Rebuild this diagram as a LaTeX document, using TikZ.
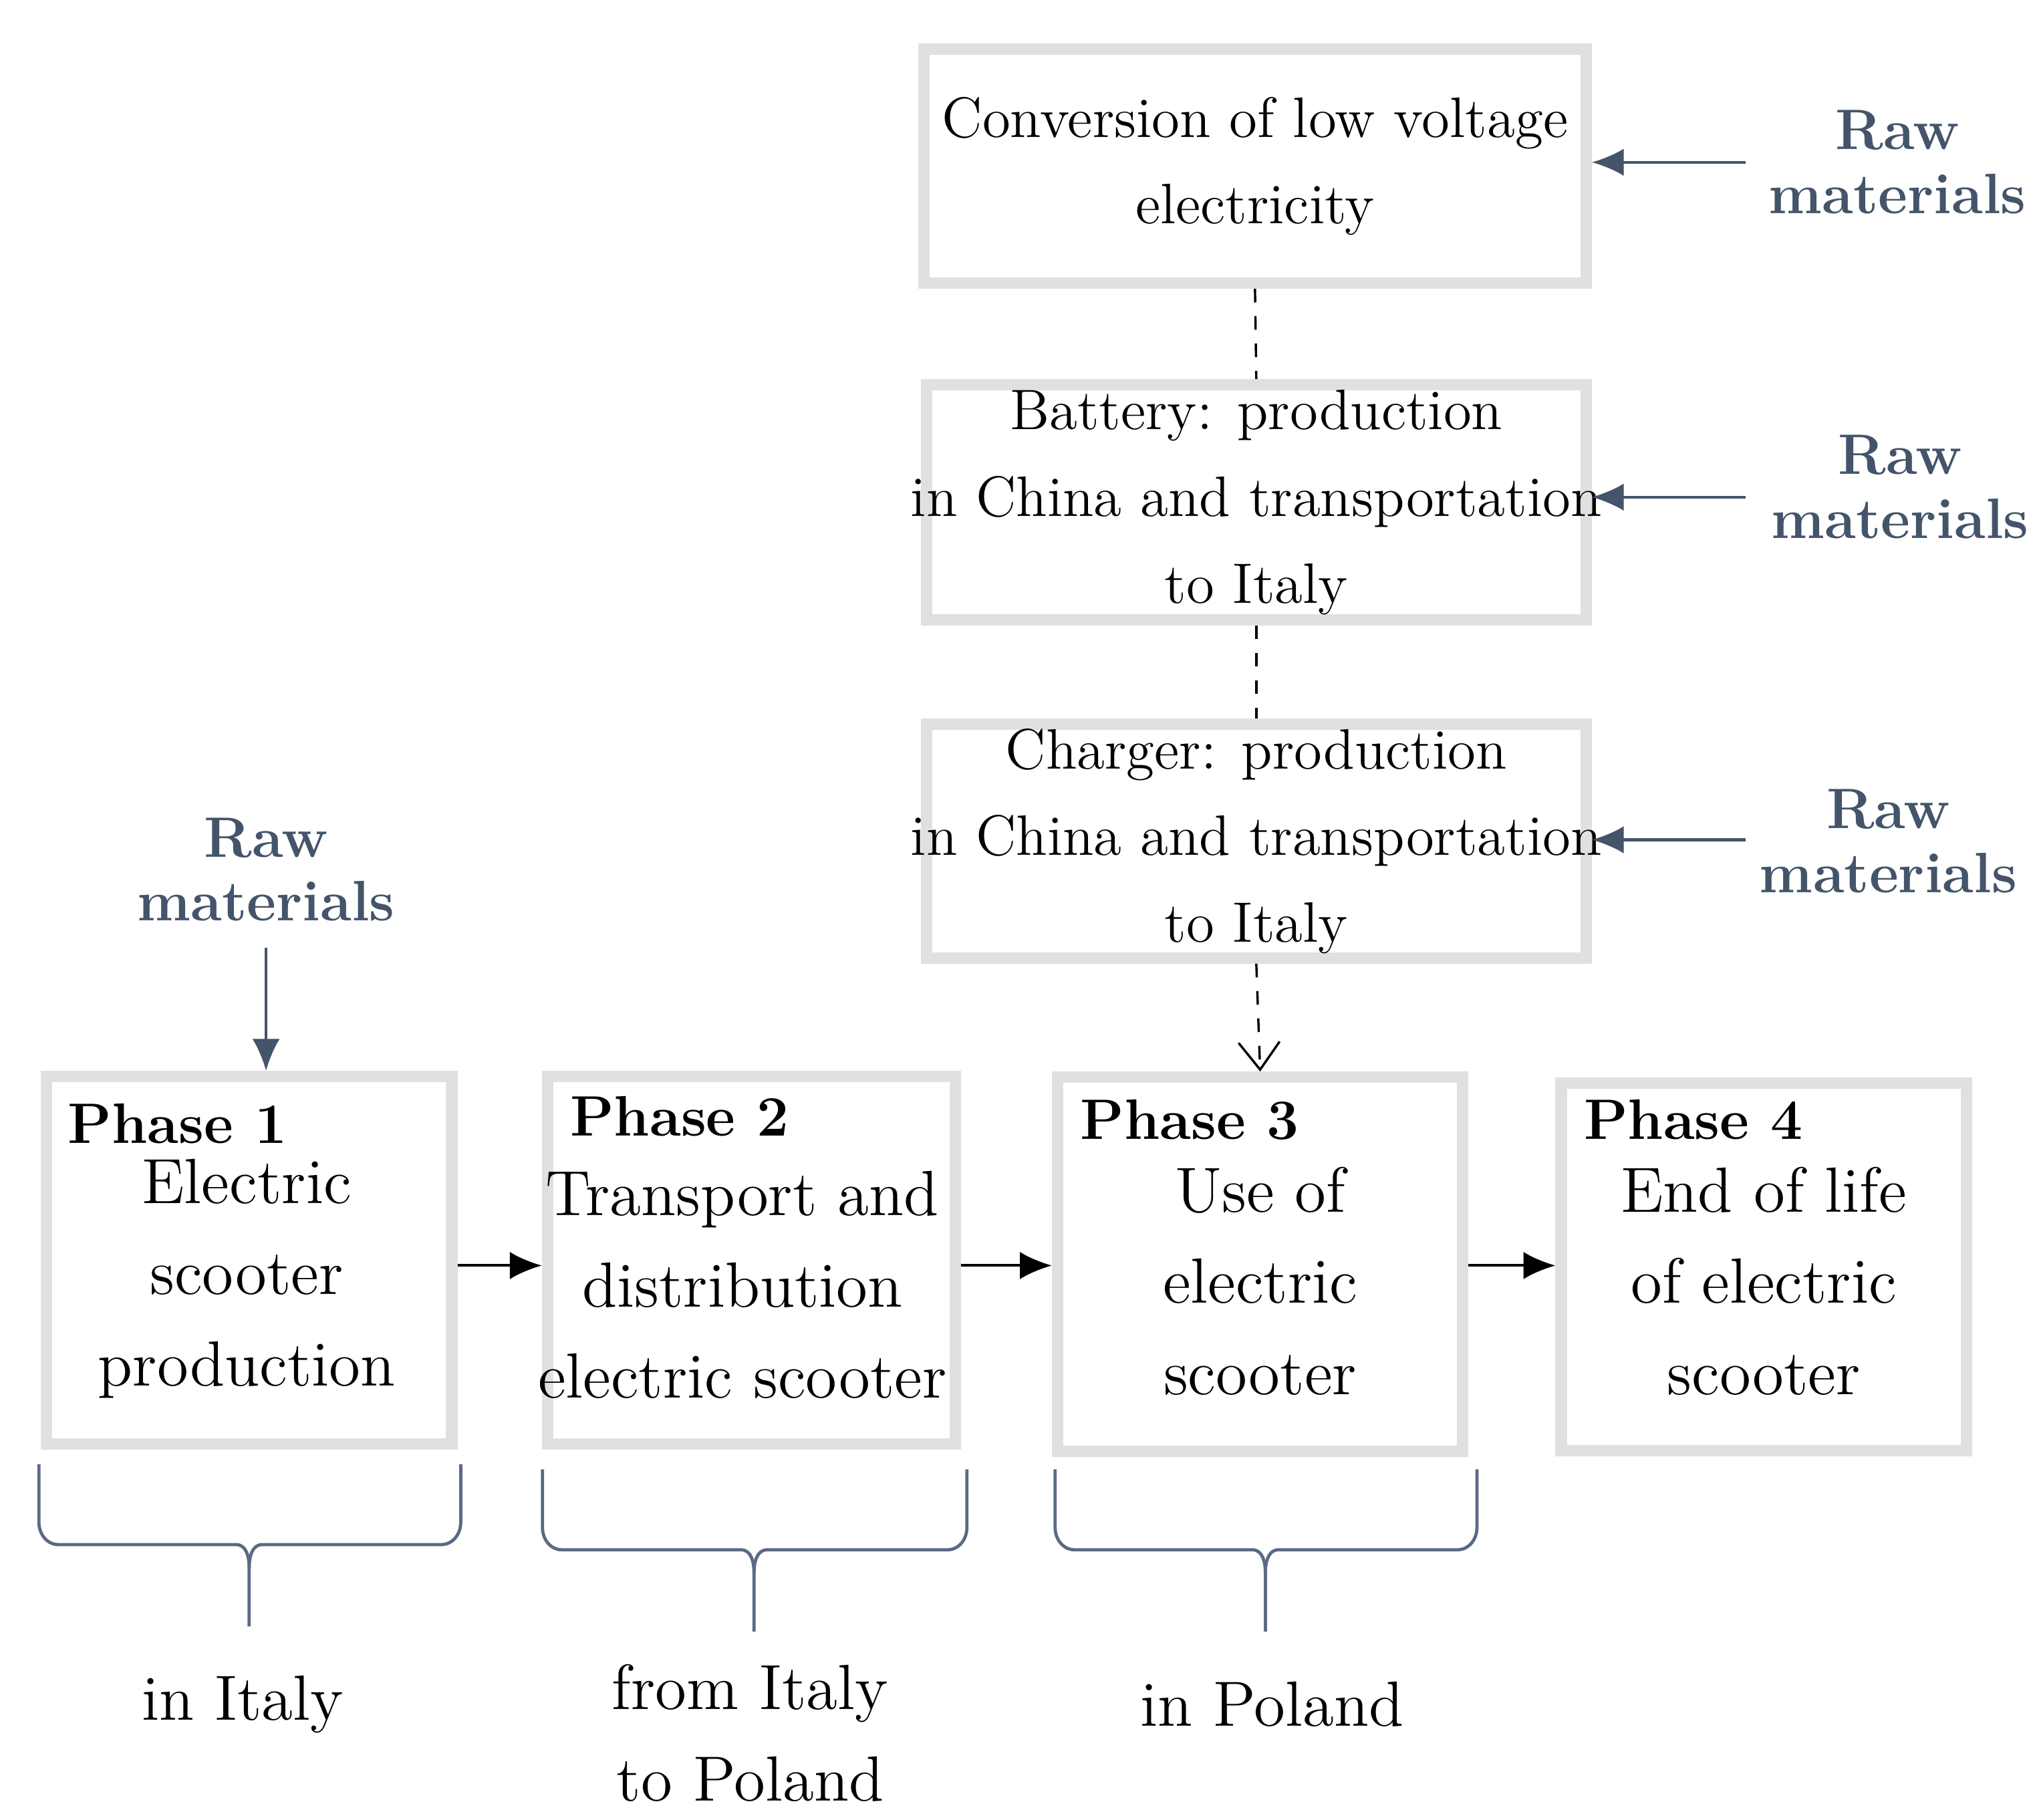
\documentclass[tikz,border=0pt]{standalone}
\usetikzlibrary{arrows.meta}
\definecolor{rawc}{HTML}{44546A}
\definecolor{brc}{HTML}{5A6A85}
\begin{document}
\begin{tikzpicture}[x=0.01cm,y=-0.01cm,
 box/.style={draw=black!12,line width=2.5pt,fill=white,inner sep=0pt},
 txt/.style={align=center,font=\fontsize{12.5}{19}\selectfont},
 raw/.style={align=center,text=rawc,font=\bfseries\fontsize{12.5}{14}\selectfont},
 ph/.style={anchor=north west,font=\bfseries\fontsize{12.5}{14}\selectfont},
 arr/.style={-{Latex[length=7pt,width=6pt]},line width=0.6pt},
 rarr/.style={-{Latex[length=7pt,width=6pt]},line width=0.6pt,draw=rawc},
 dsh/.style={dashed,line width=0.5pt},
 brace/.style={draw=brc,line width=0.7pt}]
\useasboundingbox (0,0) rectangle (1568,1402);
% top chain
\node[box,minimum width=5.10cm,minimum height=1.80cm] (conv) at (967,128) {};
\node[txt] at (conv) {Conversion of low voltage\\electricity};
\node[box,minimum width=5.08cm,minimum height=1.81cm] (bat) at (968,387) {};
\node[txt] at (bat) {Battery: production\\in China and transportation\\to Italy};
\node[box,minimum width=5.08cm,minimum height=1.80cm] (chg) at (968,648) {};
\node[txt] at (chg) {Charger: production\\in China and transportation\\to Italy};
\node[raw] (r1) at (1462,125) {Raw\\materials};
\node[raw] (r2) at (1464,375) {Raw\\materials};
\node[raw] (r3) at (1455,648) {Raw\\materials};
\node[raw] (r4) at (205,670) {Raw\\materials};
\coordinate (r1s) at (1345,125); \coordinate (r2s) at (1345,383); \coordinate (r3s) at (1345,647);
\draw[rarr] (r1s) -- (conv.east|-r1s);
\draw[rarr] (r2s) -- (bat.east|-r2s);
\draw[rarr] (r3s) -- (chg.east|-r3s);
% phases
\node[box,minimum width=3.12cm,minimum height=2.83cm] (p1) at (192,971) {};
\node[box,minimum width=3.14cm,minimum height=2.83cm] (p2) at (579,971) {};
\node[box,minimum width=3.12cm,minimum height=2.88cm] (p3) at (971,974) {};
\node[box,minimum width=3.12cm,minimum height=2.83cm] (p4) at (1359,976) {};
\node[ph] at (40,838) {Phase 1};
\node[ph] at (427,832) {Phase 2};
\node[ph] at (820,835) {Phase 3};
\node[ph] at (1208,835) {Phase 4};
\node[txt,font=\fontsize{14}{20}\selectfont] at (190,985) {Electric\\scooter\\production};
\node[txt,font=\fontsize{14}{20}\selectfont] at (572,990) {Transport and\\distribution\\electric scooter};
\node[txt,font=\fontsize{14}{20}\selectfont] at (971,987) {Use of\\electric\\scooter};
\node[txt,font=\fontsize{14}{20}\selectfont] at (1359,987) {End of life\\of electric\\scooter};
\coordinate (r4s) at (205,730);
\draw[rarr] (r4s) -- (p1.north-|r4s);
\draw[dsh] (conv.south) -- (bat.north);
\draw[dsh] (bat.south) -- (chg.north);
\draw[dsh,-{Straight Barb[length=6pt,width=9pt]}] (chg.south) -- (p3.north);
\draw[arr] (p1.east|-0,975) -- (p2.west|-0,975);
\draw[arr] (p2.east|-0,975) -- (p3.west|-0,975);
\draw[arr] (p3.east|-0,975) -- (p4.west|-0,975);
% braces
\foreach \a/\b/\t/\y in {30/355/192/1128, 418/745/581/1132, 813/1138/975/1132}{
 \draw[brace] (\a,\y) -- (\a,\y+45) to[out=-90,in=180] (\a+15,\y+62) -- (\t-10,\y+62) to[out=0,in=90] (\t,\y+80) -- (\t,\y+125);
 \draw[brace] (\b,\y) -- (\b,\y+45) to[out=-90,in=0] (\b-15,\y+62) -- (\t+10,\y+62) to[out=180,in=90] (\t,\y+80);
}
\node[txt,font=\fontsize{14}{20}\selectfont] (l1) at (187,1313) {in Italy};
\node[txt,font=\fontsize{14}{20}\selectfont] (l2) at (578,1335) {from Italy\\to Poland};
\node[txt,font=\fontsize{14}{20}\selectfont] (l3) at (980,1313) {in Poland};
\end{tikzpicture}
\end{document}
